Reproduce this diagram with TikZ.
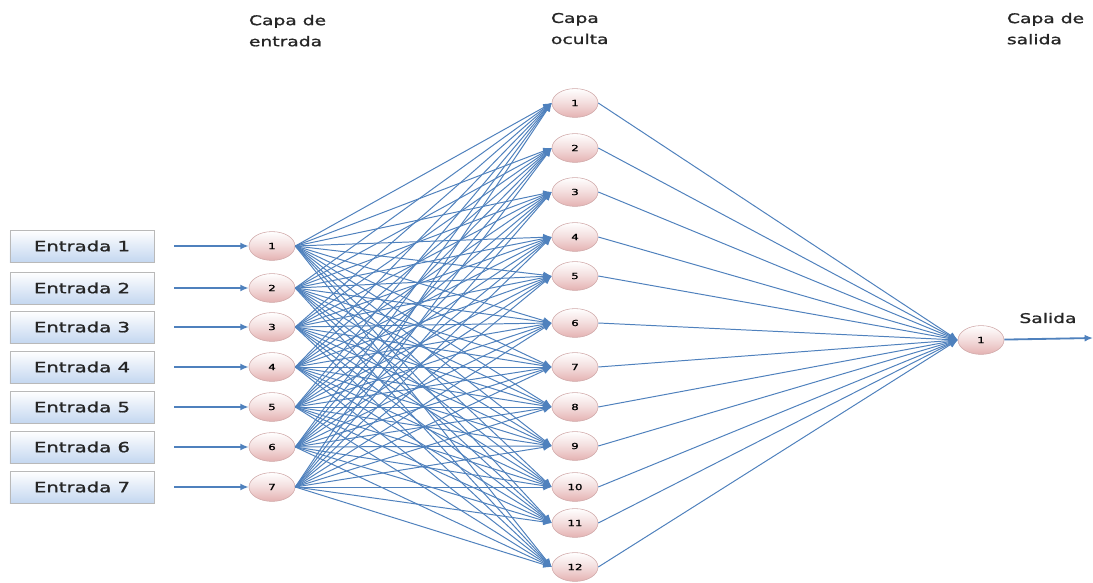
\documentclass[tikz,border=0pt]{standalone}
\usepackage{fontspec}
\setmainfont{DejaVu Sans}
\newfontfamily\rotulo[FakeStretch=1.4,FakeBold=1.2]{DejaVu Sans}
\usetikzlibrary{shapes.geometric,arrows.meta}
\definecolor{azul}{RGB}{79,129,189}
\definecolor{rosa}{RGB}{228,178,178}
\definecolor{celeste}{RGB}{196,215,240}

\begin{document}
\begin{tikzpicture}[x=0.025cm,y=-0.025cm,
  caja/.style={draw=gray!55,top color=white,bottom color=celeste,minimum width=3.6cm,minimum height=0.8cm,font=\rotulo\fontsize{10}{12}\selectfont,text=black!85},
  neurona/.style={ellipse,draw=rosa!80!gray,top color=white,bottom color=rosa,middle color=rosa!45,inner sep=0pt,minimum width=1.15cm,minimum height=0.72cm,font=\rotulo\fontsize{6}{7}\selectfont},
  enlace/.style={draw=azul,line width=0.7pt,-{Latex[length=6pt,width=5pt]}},
  titulo/.style={anchor=north west,align=left,font=\rotulo\fontsize{9.5}{15}\selectfont,text=black!85}]
\useasboundingbox[fill=white] (0,0) rectangle (1093,583);
% capas
\node[titulo] (t1) at (244,10) {Capa de\\entrada};
\node[titulo] (t2) at (546,8) {Capa\\oculta};
\node[titulo] (t3) at (1002,8) {Capa de\\salida};
% entradas
\foreach \i/\y in {1/246,2/288,3/327,4/367,5/407,6/447,7/487}{
  \node[caja] (e\i) at (82,\y) {Entrada \i};
  \node[neurona] (x\i) at (272,\y) {\i};
  \draw[enlace,line width=1.3pt,shorten <=0.5cm] (e\i) -- (x\i);
}
% capa oculta
\foreach \j/\y in {1/103,2/148,3/192,4/237,5/276,6/323,7/367,8/407,9/446,10/487,11/523,12/567}
  \node[neurona] (h\j) at (575,\y) {\j};
% salida
\node[neurona] (o1) at (981,340) {1};
\coordinate (fin) at (1093,338);
\node[font=\rotulo\fontsize{9.5}{11}\selectfont,text=black!85] (s) at (1048,318) {Salida};
\foreach \i in {1,...,7}
  \foreach \j in {1,...,12}
    \draw[enlace] (x\i.east) -- (h\j.west);
\foreach \j in {1,...,12}
  \draw[enlace] (h\j.east) -- (o1.west);
\draw[enlace,line width=1.3pt] (o1) -- (fin);
\end{tikzpicture}
\end{document}
